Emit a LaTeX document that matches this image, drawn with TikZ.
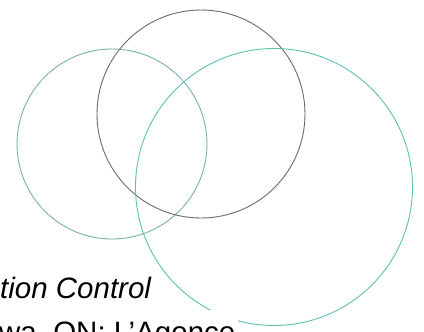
\documentclass[tikz,border=0pt]{standalone}
\usepackage{fontspec}
\setmainfont{Liberation Sans}
\usepackage{tikz}
\usetikzlibrary{positioning}
\usepackage{xcolor}
\definecolor{ringleft}{HTML}{7AB0B0}
\definecolor{ringmid}{HTML}{6E6A60}
\definecolor{ringright}{HTML}{5EC2A9}

\begin{document}
\begin{tikzpicture}[
    x=1pt, y=-1pt,
    ring/.style={
        circle, draw, line width=0.9pt, inner sep=0pt
    },
    cite/.style={
        anchor=base west, inner sep=0pt,
        font=\fontsize{29.5}{34}\selectfont, text=black
    },
]
\useasboundingbox (0,0) rectangle (424,332);

% ── Rings ────────────────────────────
\node[ring, draw=ringleft, minimum size=190pt] (left) at (112,144) {};
\node[ring, draw=ringmid, minimum size=208pt] (mid) at (201,114) {};
\node[ring, draw=ringright, minimum size=277pt] (right) at (274,187) {};

% ── Caption ──────────────────────────
\fill[white] (0,310) rectangle (238,332);
\node[cite, font=\fontsize{29.5}{34}\selectfont\itshape] (line1) at (0,298) {tion Control};
\node[cite] (line2) at (-1,342) {wa, ON: L’Agence};

\end{tikzpicture}
\end{document}
